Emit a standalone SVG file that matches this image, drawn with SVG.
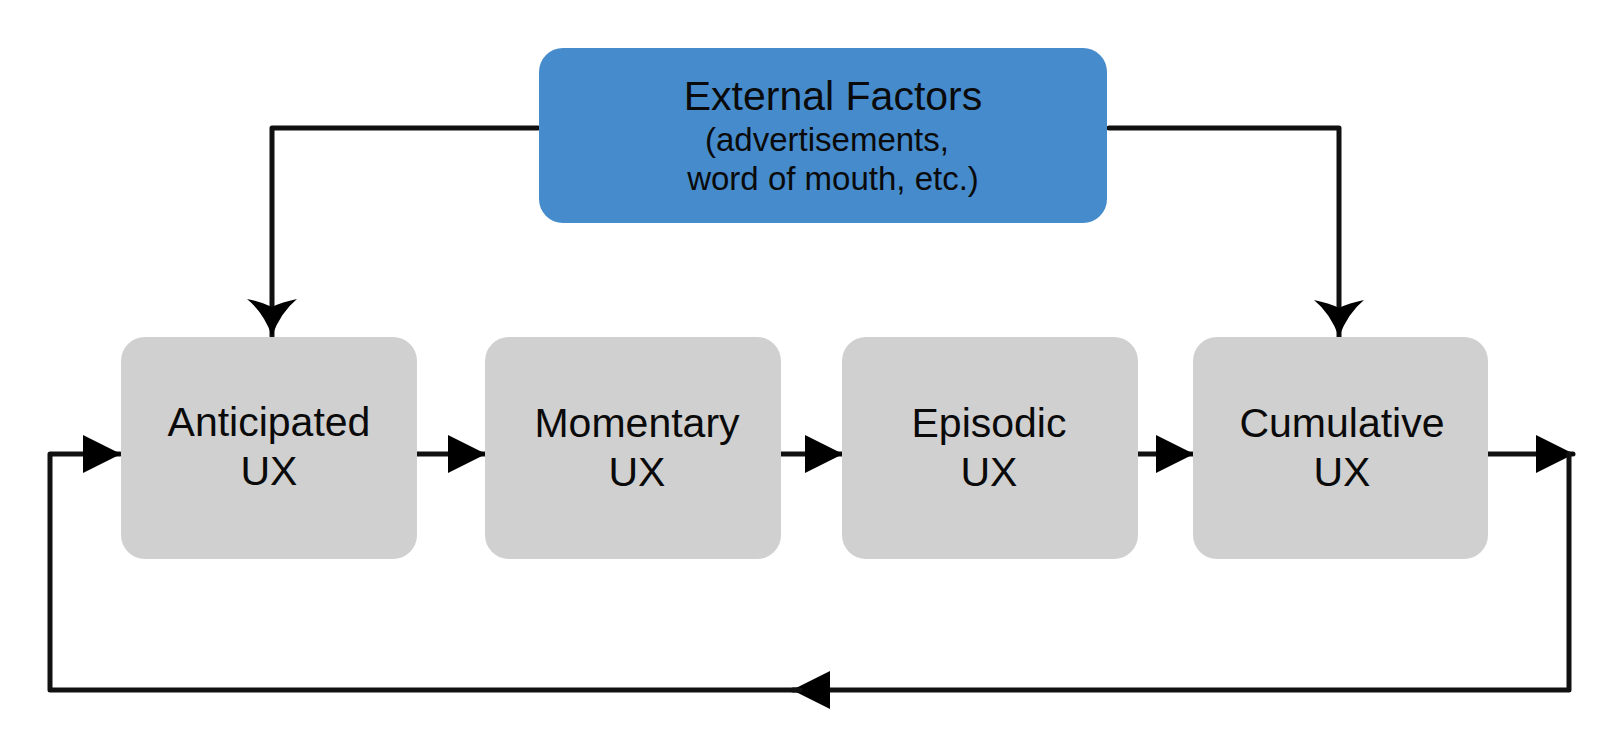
<svg xmlns="http://www.w3.org/2000/svg" width="1600" height="729" viewBox="0 0 1600 729">
<style>
.box{fill:#d0d0d0}
.ext{fill:#468bcb}
.lbl{font-family:"Liberation Sans",Arial,sans-serif;font-size:41px;fill:#0a0a0a;text-anchor:middle}
.sub{font-family:"Liberation Sans",Arial,sans-serif;font-size:33px;fill:#0a0a0a;text-anchor:middle}
.conn{fill:none;stroke:#111;stroke-width:5;stroke-linejoin:round;stroke-linecap:round}
</style>
<defs>
<marker id="tri" markerUnits="userSpaceOnUse" viewBox="0 0 38 38" refX="37" refY="19" markerWidth="38" markerHeight="38" orient="auto">
<path d="M0,0 L38,19 L0,38 Z" fill="#000"/>
</marker>
<marker id="stealth" markerUnits="userSpaceOnUse" viewBox="0 0 38 50" refX="37" refY="25" markerWidth="38" markerHeight="50" orient="auto">
<path d="M37,25 Q13.5,16.5 0,0 Q3,15 8,25 Q3,35 0,50 Q13.5,33.5 37,25 Z" fill="#000"/>
</marker>
</defs>
<g id="connectors">
<path class="conn" d="M538,128 L272,128 L272,336" marker-end="url(#stealth)"/>
<path class="conn" d="M1109,128 L1339,128 L1339,337" marker-end="url(#stealth)"/>
<path class="conn" d="M417,454 L485,454" marker-end="url(#tri)"/>
<path class="conn" d="M781,454 L842,454" marker-end="url(#tri)"/>
<path class="conn" d="M1138,454 L1193,454" marker-end="url(#tri)"/>
<path class="conn" d="M1488,454 L1573,454" marker-end="url(#tri)"/>
<path class="conn" d="M1569,454 L1569,690 L793,690" marker-end="url(#tri)"/>
<path class="conn" d="M800,690 L50,690 L50,454 L120,454" marker-end="url(#tri)"/>
</g>
<g id="external">
<rect class="ext" x="539" y="48" width="568" height="175" rx="24"/>
<text class="lbl" x="833" y="110" font-size="40">External Factors</text>
<text class="sub" x="827" y="151">(advertisements,</text>
<text class="sub" x="833" y="190">word of mouth, etc.)</text>
</g>
<g id="anticipated">
<rect class="box" x="121" y="337" width="296" height="222" rx="24"/>
<text class="lbl" x="269" y="436">Anticipated</text>
<text class="lbl" x="269" y="485">UX</text>
</g>
<g id="momentary">
<rect class="box" x="485" y="337" width="296" height="222" rx="24"/>
<text class="lbl" x="637" y="437">Momentary</text>
<text class="lbl" x="637" y="486">UX</text>
</g>
<g id="episodic">
<rect class="box" x="842" y="337" width="296" height="222" rx="24"/>
<text class="lbl" x="989" y="437">Episodic</text>
<text class="lbl" x="989" y="486">UX</text>
</g>
<g id="cumulative">
<rect class="box" x="1193" y="337" width="295" height="222" rx="24"/>
<text class="lbl" x="1342" y="437">Cumulative</text>
<text class="lbl" x="1342" y="486">UX</text>
</g>
</svg>
